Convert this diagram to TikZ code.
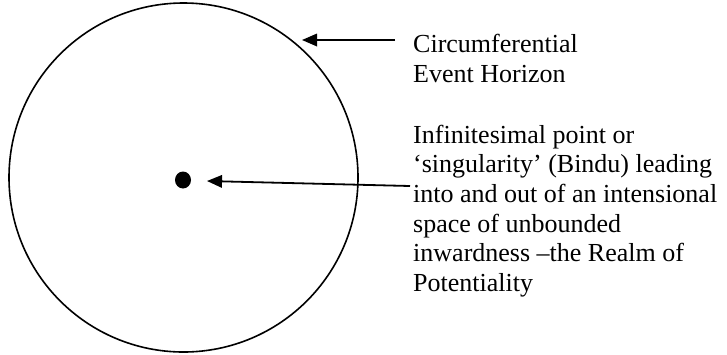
\documentclass[tikz,border=0pt]{standalone}
\usepackage{fontspec}
\setmainfont{Liberation Serif}
\usetikzlibrary{arrows.meta,shapes.geometric}
\begin{document}
\begin{tikzpicture}[x=1pt,y=-1pt,
  lbl/.style={anchor=base west,inner sep=0pt,align=left,font=\fontsize{26}{29.7}\selectfont},
  pointer/.style={line width=1.8pt,-{Triangle[length=15pt,width=12.5pt]}}]
\useasboundingbox (0,0) rectangle (727,354);
\node[draw,circle,line width=1.6pt,minimum size=349pt,inner sep=0pt] (horizon) at (183.5,177.5) {};
\node[fill,ellipse,minimum width=16pt,minimum height=17pt,inner sep=0pt] (bindu) at (183,180) {};
% base anchor of a multi-line node lies on its last line
\node[lbl] (t1) at (413,82) {Circumferential\\Event Horizon};
\node[lbl] (t2) at (413,291.5) {Infinitesimal point or\\‘singularity’ (Bindu) leading\\into and out of an intensional\\space of unbounded\\inwardness –the Realm of\\Potentiality};
\coordinate (a1s) at (395,40);
\coordinate (a1e) at (302,40);
\coordinate (a2s) at (410,186);
\coordinate (a2e) at (207,181);
\draw[pointer] (a1s) -- (a1e);
\draw[pointer] (a2s) -- (a2e);
\end{tikzpicture}
\end{document}
